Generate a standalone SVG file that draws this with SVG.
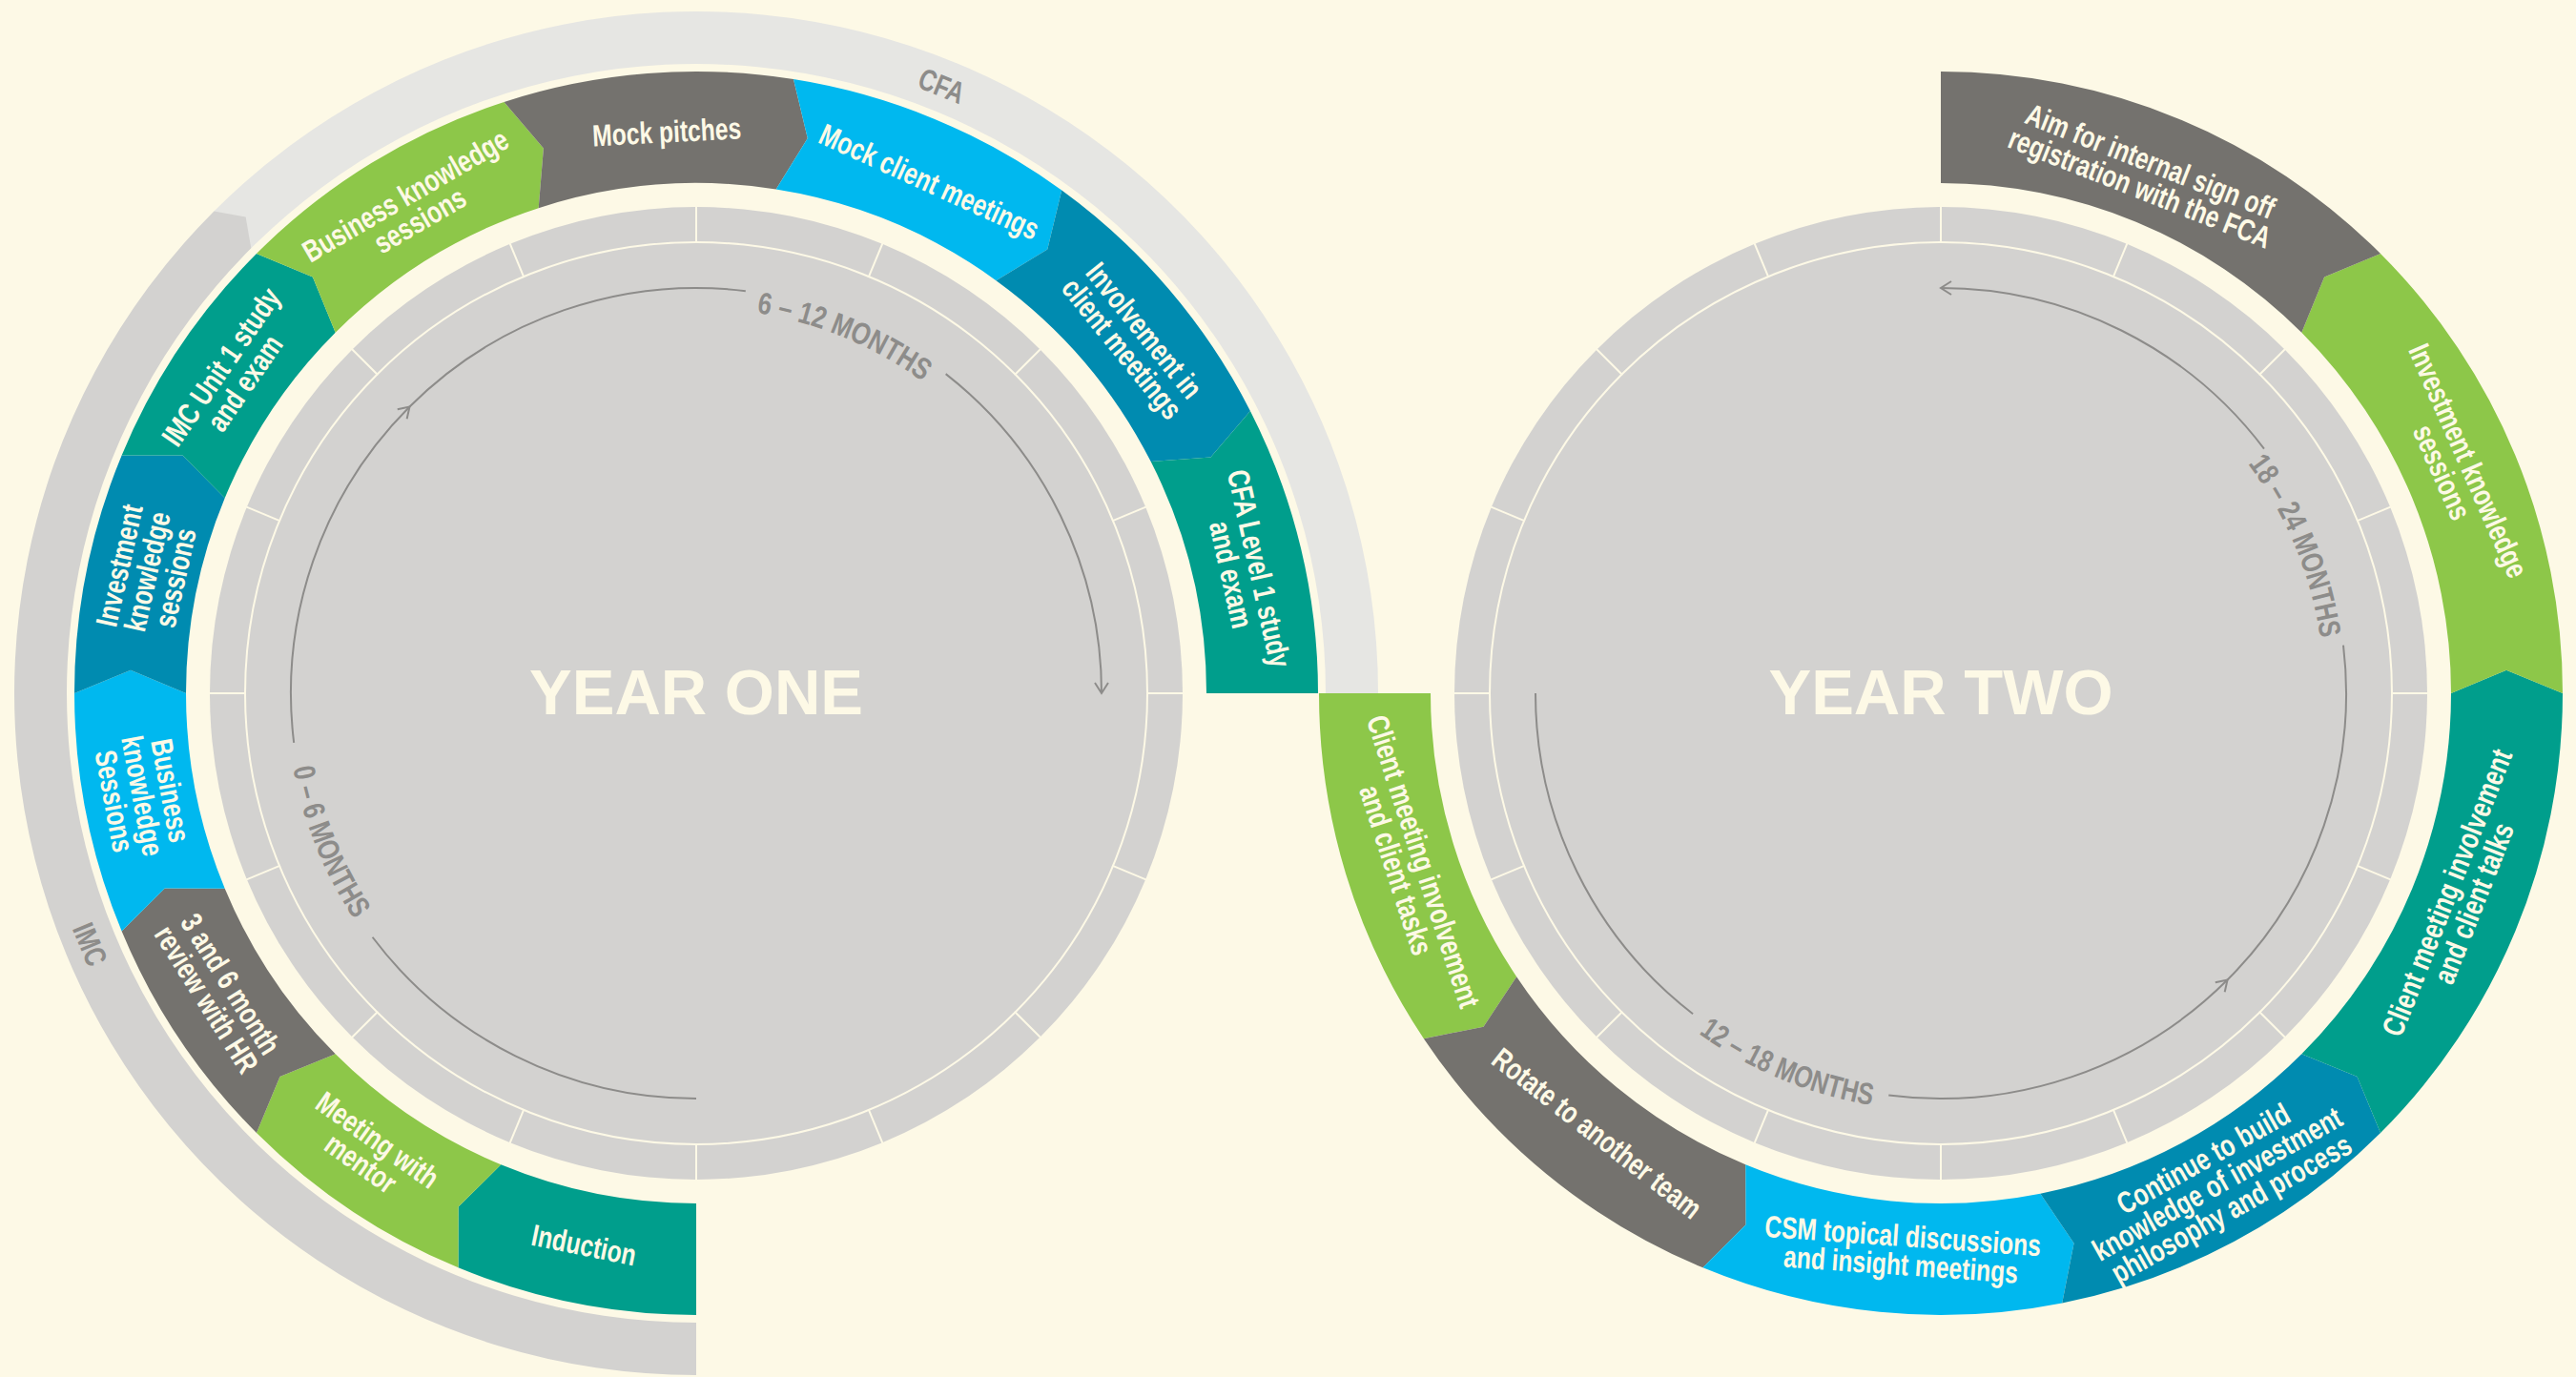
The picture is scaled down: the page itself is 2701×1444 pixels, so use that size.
<svg xmlns="http://www.w3.org/2000/svg" xmlns:xlink="http://www.w3.org/1999/xlink" width="2701" height="1444" viewBox="0 0 2701 1444">
<style>
.bg{fill:#fdf9e6}
.disk{fill:#d3d2d0}
.ring{fill:none;stroke:#fdf9e6;stroke-width:2}
.tk{stroke:#fdf9e6;stroke-width:2}
.teal{fill:#009e8c}
.green{fill:#8dc749}
.gray{fill:#74726e}
.cyan{fill:#00b8ef}
.blue{fill:#008bb0}
.cfa{fill:#e6e6e3}
.imc{fill:#d3d2d0}
.lbl{font-family:"Liberation Sans",Arial,sans-serif;font-weight:700;font-size:32px;fill:#fdf9e6;text-anchor:middle}
.blbl{font-family:"Liberation Sans",Arial,sans-serif;font-weight:700;font-size:32px;fill:#8d8c8a;text-anchor:middle}
.mon{font-family:"Liberation Sans",Arial,sans-serif;font-weight:700;font-size:32px;fill:#8d8c8a;text-anchor:middle}
.year{font-family:"Liberation Sans",Arial,sans-serif;font-weight:700;font-size:67px;fill:#fdf9e6;text-anchor:middle}
.arc{fill:none;stroke:#8d8c8a;stroke-width:2}
</style>
<defs>
<marker id="ah" viewBox="-14 -10 16 20" markerWidth="16" markerHeight="20" refX="0" refY="0" orient="auto" markerUnits="userSpaceOnUse">
<path d="M-11,-7 L0,0 L-11,7" fill="none" stroke="#8d8c8a" stroke-width="2"/>
</marker>
<g id="ticks" class="tk">
<line x1="472" y1="0" x2="511" y2="0"/>
<line x1="472" y1="0" x2="511" y2="0" transform="rotate(22.5)"/>
<line x1="472" y1="0" x2="511" y2="0" transform="rotate(45)"/>
<line x1="472" y1="0" x2="511" y2="0" transform="rotate(67.5)"/>
<line x1="472" y1="0" x2="511" y2="0" transform="rotate(90)"/>
<line x1="472" y1="0" x2="511" y2="0" transform="rotate(112.5)"/>
<line x1="472" y1="0" x2="511" y2="0" transform="rotate(135)"/>
<line x1="472" y1="0" x2="511" y2="0" transform="rotate(157.5)"/>
<line x1="472" y1="0" x2="511" y2="0" transform="rotate(180)"/>
<line x1="472" y1="0" x2="511" y2="0" transform="rotate(202.5)"/>
<line x1="472" y1="0" x2="511" y2="0" transform="rotate(225)"/>
<line x1="472" y1="0" x2="511" y2="0" transform="rotate(247.5)"/>
<line x1="472" y1="0" x2="511" y2="0" transform="rotate(270)"/>
<line x1="472" y1="0" x2="511" y2="0" transform="rotate(292.5)"/>
<line x1="472" y1="0" x2="511" y2="0" transform="rotate(315)"/>
<line x1="472" y1="0" x2="511" y2="0" transform="rotate(337.5)"/>
</g>
<path id="p06" d="M 300 727 A 430 430 0 0 0 420.68 1025.70"/>
<path id="p612" d="M 730 323 A 404 404 0 0 1 1015.67 441.33"/>
<path id="p1218" d="M 1725.29 1036.71 A 438 438 0 0 0 2035 1165"/>
<path id="p1824" d="M 2319.26 442.74 A 402 402 0 0 1 2437 727"/>
</defs>
<rect class="bg" x="0" y="0" width="2701" height="1444"/>

<g id="year-one">
<g id="y1-disk">
<circle class="disk" cx="730" cy="727" r="510"/>
<circle class="ring" cx="730" cy="727" r="473"/>
<use href="#ticks" transform="translate(730 727)"/>
<text class="year" x="730" y="749">YEAR ONE</text>
</g>
<g id="y1-band-cfa">
<path class="cfa" d="M 224.42 221.42 A 715 715 0 0 1 1445 727 L 1390 727 A 660 660 0 0 0 263.31 260.31 Z"/>
<text class="blbl" transform="translate(987.54 89.56) rotate(22) scale(0.77 1)" x="0" y="11.5">CFA</text>
</g>
<g id="y1-band-imc">
<path class="imc" d="M 730 1442 A 715 715 0 0 1 224.42 221.42 L 257.63 227.48 L 263.31 260.31 A 660 660 0 0 0 730 1387 Z"/>
<text class="blbl" transform="translate(94.83 990.09) rotate(67.5) scale(0.77 1)" x="0" y="11.5">IMC</text>
</g>
<g id="y1-induction">
<path class="teal" d="M 730 1379 A 652 652 0 0 1 480.49 1329.37 L 480.59 1265.55 L 525.26 1221.28 A 535 535 0 0 0 730 1262 Z"/>
<text class="lbl" transform="translate(612.37 1305.16) rotate(11.5) scale(0.77 1)"><tspan x="0" y="11.5">Induction</tspan></text>
</g>
<g id="y1-mentor">
<path class="green" d="M 480.49 1329.37 A 652 652 0 0 1 268.97 1188.03 L 293.48 1129.11 L 351.70 1105.30 A 535 535 0 0 0 525.26 1221.28 L 480.59 1265.55 Z"/>
<text class="lbl" transform="translate(387.39 1207.33) rotate(35.5) scale(0.77 1)"><tspan x="0" y="-3.5">Meeting with</tspan><tspan x="0" y="26.5">mentor</tspan></text>
</g>
<g id="y1-hr">
<path class="gray" d="M 268.97 1188.03 A 652 652 0 0 1 127.63 976.51 L 172.82 931.45 L 235.72 931.74 A 535 535 0 0 0 351.70 1105.30 L 293.48 1129.11 Z"/>
<text class="lbl" transform="translate(229.65 1039.65) rotate(58) scale(0.77 1)"><tspan x="0" y="-3.5">3 and 6 month</tspan><tspan x="0" y="26.5">review with HR</tspan></text>
</g>
<g id="y1-business1">
<path class="cyan" d="M 127.63 976.51 A 652 652 0 0 1 78 727 L 137.00 702.66 L 195 727 A 535 535 0 0 0 235.72 931.74 L 172.82 931.45 Z"/>
<text class="lbl" transform="translate(149.88 834.52) rotate(79.5) scale(0.77 1)"><tspan x="0" y="-18.5">Business</tspan><tspan x="0" y="11.5">knowledge</tspan><tspan x="0" y="41.5">Sessions</tspan></text>
</g>
<g id="y1-investment">
<path class="blue" d="M 78 727 A 652 652 0 0 1 127.63 477.49 L 191.45 477.58 L 235.72 522.26 A 535 535 0 0 0 195 727 L 137.00 702.66 Z"/>
<text class="lbl" transform="translate(153.99 599.30) rotate(-77.5) scale(0.77 1)"><tspan x="0" y="-18.5">Investment</tspan><tspan x="0" y="11.5">knowledge</tspan><tspan x="0" y="41.5">sessions</tspan></text>
</g>
<g id="y1-imc-unit">
<path class="teal" d="M 127.63 477.49 A 652 652 0 0 1 268.97 265.97 L 327.89 290.48 L 351.70 348.70 A 535 535 0 0 0 235.72 522.26 L 191.45 477.58 Z"/>
<text class="lbl" transform="translate(243.77 392.82) rotate(-55.5) scale(0.77 1)"><tspan x="0" y="-3.5">IMC Unit 1 study</tspan><tspan x="0" y="26.5">and exam</tspan></text>
</g>
<g id="y1-business2">
<path class="green" d="M 268.97 265.97 A 652 652 0 0 1 528.52 106.91 L 569.89 155.49 L 564.68 218.18 A 535 535 0 0 0 351.70 348.70 L 327.89 290.48 Z"/>
<text class="lbl" transform="translate(432.33 217.60) rotate(-30.3) scale(0.77 1)"><tspan x="0" y="-3.5">Business knowledge</tspan><tspan x="0" y="26.5">sessions</tspan></text>
</g>
<g id="y1-mock-pitches">
<path class="gray" d="M 528.52 106.91 A 652 652 0 0 1 831.99 83.03 L 846.80 145.11 L 813.69 198.59 A 535 535 0 0 0 564.68 218.18 L 569.89 155.49 Z"/>
<text class="lbl" transform="translate(699.12 137.81) rotate(-3) scale(0.77 1)"><tspan x="0" y="11.5">Mock pitches</tspan></text>
</g>
<g id="y1-mock-client">
<path class="cyan" d="M 831.99 83.03 A 652 652 0 0 1 1113.24 199.52 L 1098.25 261.56 L 1044.46 294.18 A 535 535 0 0 0 813.69 198.59 L 846.80 145.11 Z"/>
<text class="lbl" transform="translate(974.67 190.12) rotate(24.5) scale(0.77 1)"><tspan x="0" y="11.5">Mock client meetings</tspan></text>
</g>
<g id="y1-involvement">
<path class="blue" d="M 1113.24 199.52 A 652 652 0 0 1 1310.94 431.00 L 1269.43 479.46 L 1206.69 484.12 A 535 535 0 0 0 1044.46 294.18 L 1098.25 261.56 Z"/>
<text class="lbl" transform="translate(1188.52 355.70) rotate(51) scale(0.77 1)"><tspan x="0" y="-3.5">Involvement in</tspan><tspan x="0" y="26.5">client meetings</tspan></text>
</g>
<g id="y1-cfa-level1">
<path class="teal" d="M 1310.94 431.00 A 652 652 0 0 1 1382 727 L 1265 727 A 535 535 0 0 0 1206.69 484.12 L 1269.43 479.46 Z"/>
<text class="lbl" transform="translate(1306.01 599.30) rotate(77.5) scale(0.77 1)"><tspan x="0" y="-3.5">CFA Level 1 study</tspan><tspan x="0" y="26.5">and exam</tspan></text>
</g>
</g>

<g id="year-two">
<g id="y2-disk">
<circle class="disk" cx="2035" cy="727" r="510"/>
<circle class="ring" cx="2035" cy="727" r="473"/>
<use href="#ticks" transform="translate(2035 727)"/>
<text class="year" x="2035" y="749">YEAR TWO</text>
</g>
<g id="y2-client-tasks">
<path class="green" d="M 1383 727 A 652 652 0 0 0 1492.88 1089.23 L 1555.46 1076.69 L 1590.16 1024.23 A 535 535 0 0 1 1500 727 Z"/>
<text class="lbl" transform="translate(1478.63 907.78) rotate(72) scale(0.77 1)"><tspan x="0" y="-3.5">Client meeting involvement</tspan><tspan x="0" y="26.5">and client tasks</tspan></text>
</g>
<g id="y2-rotate">
<path class="gray" d="M 1492.88 1089.23 A 652 652 0 0 0 1785.49 1329.37 L 1830.55 1284.18 L 1830.26 1221.28 A 535 535 0 0 1 1590.16 1024.23 L 1555.46 1076.69 Z"/>
<text class="lbl" transform="translate(1674.84 1187.99) rotate(38) scale(0.77 1)"><tspan x="0" y="11.5">Rotate to another team</tspan></text>
</g>
<g id="y2-csm">
<path class="cyan" d="M 1785.49 1329.37 A 652 652 0 0 0 2162.20 1366.47 L 2174.56 1303.86 L 2139.37 1251.72 A 535 535 0 0 1 1830.26 1221.28 L 1830.55 1284.18 Z"/>
<text class="lbl" transform="translate(1994.19 1310.58) rotate(4) scale(0.77 1)"><tspan x="0" y="-3.5">CSM topical discussions</tspan><tspan x="0" y="26.5">and insight meetings</tspan></text>
</g>
<g id="y2-continue">
<path class="blue" d="M 2162.20 1366.47 A 652 652 0 0 0 2496.03 1188.03 L 2471.52 1129.11 L 2413.30 1105.30 A 535 535 0 0 1 2139.37 1251.72 L 2174.56 1303.86 Z"/>
<text class="lbl" transform="translate(2324.63 1241.02) rotate(-29.4) scale(0.77 1)"><tspan x="0" y="-18.5">Continue to build</tspan><tspan x="0" y="11.5">knowledge of investment</tspan><tspan x="0" y="41.5">philosophy and process</tspan></text>
</g>
<g id="y2-client-talks">
<path class="teal" d="M 2496.03 1188.03 A 652 652 0 0 0 2687 727 L 2628.00 702.66 L 2570 727 A 535 535 0 0 1 2413.30 1105.30 L 2471.52 1129.11 Z"/>
<text class="lbl" transform="translate(2579.29 941.40) rotate(-68.5) scale(0.77 1)"><tspan x="0" y="-3.5">Client meeting involvement</tspan><tspan x="0" y="26.5">and client talks</tspan></text>
</g>
<g id="y2-investment">
<path class="green" d="M 2687 727 A 652 652 0 0 0 2496.03 265.97 L 2437.11 290.48 L 2413.30 348.70 A 535 535 0 0 1 2570 727 L 2628.00 702.66 Z"/>
<text class="lbl" transform="translate(2574.83 488.91) rotate(66.2) scale(0.77 1)"><tspan x="0" y="-3.5">Investment knowledge</tspan><tspan x="0" y="26.5">sessions</tspan></text>
</g>
<g id="y2-fca">
<path class="gray" d="M 2496.03 265.97 A 652 652 0 0 0 2035 75 L 2035 192 A 535 535 0 0 1 2413.30 348.70 L 2437.11 290.48 Z"/>
<text class="lbl" transform="translate(2249.40 182.71) rotate(21.5) scale(0.77 1)"><tspan x="0" y="-3.5">Aim for internal sign off</tspan><tspan x="0" y="26.5">registration with the FCA</tspan></text>
</g>
</g>

<g id="connectors">
<path class="arc" d="M 730 1152 A 425 425 0 0 1 390.58 982.77"/>
<path class="arc" d="M 308.17 778.79 A 425 425 0 0 1 429.48 426.48" marker-end="url(#ah)"/>
<path class="arc" d="M 429.48 426.48 A 425 425 0 0 1 781.79 305.17"/>
<path class="arc" d="M 991.66 392.10 A 425 425 0 0 1 1155 727" marker-end="url(#ah)"/>
<path class="arc" d="M 1610 727 A 425 425 0 0 0 1775.07 1063.25"/>
<path class="arc" d="M 1980.26 1148.46 A 425 425 0 0 0 2335.52 1027.52" marker-end="url(#ah)"/>
<path class="arc" d="M 2335.52 1027.52 A 425 425 0 0 0 2457.01 676.68"/>
<path class="arc" d="M 2373.97 470.64 A 425 425 0 0 0 2035 302" marker-end="url(#ah)"/>
</g>

<g id="month-labels">
<text class="mon" textLength="172" lengthAdjust="spacingAndGlyphs"><textPath href="#p06" startOffset="50%">0 – 6 MONTHS</textPath></text>
<text class="mon" textLength="190" lengthAdjust="spacingAndGlyphs"><textPath href="#p612" startOffset="50%">6 – 12 MONTHS</textPath></text>
<text class="mon" textLength="198" lengthAdjust="spacingAndGlyphs"><textPath href="#p1218" startOffset="50%">12 – 18 MONTHS</textPath></text>
<text class="mon" textLength="200" lengthAdjust="spacingAndGlyphs"><textPath href="#p1824" startOffset="50%">18 – 24 MONTHS</textPath></text>
</g>
</svg>
